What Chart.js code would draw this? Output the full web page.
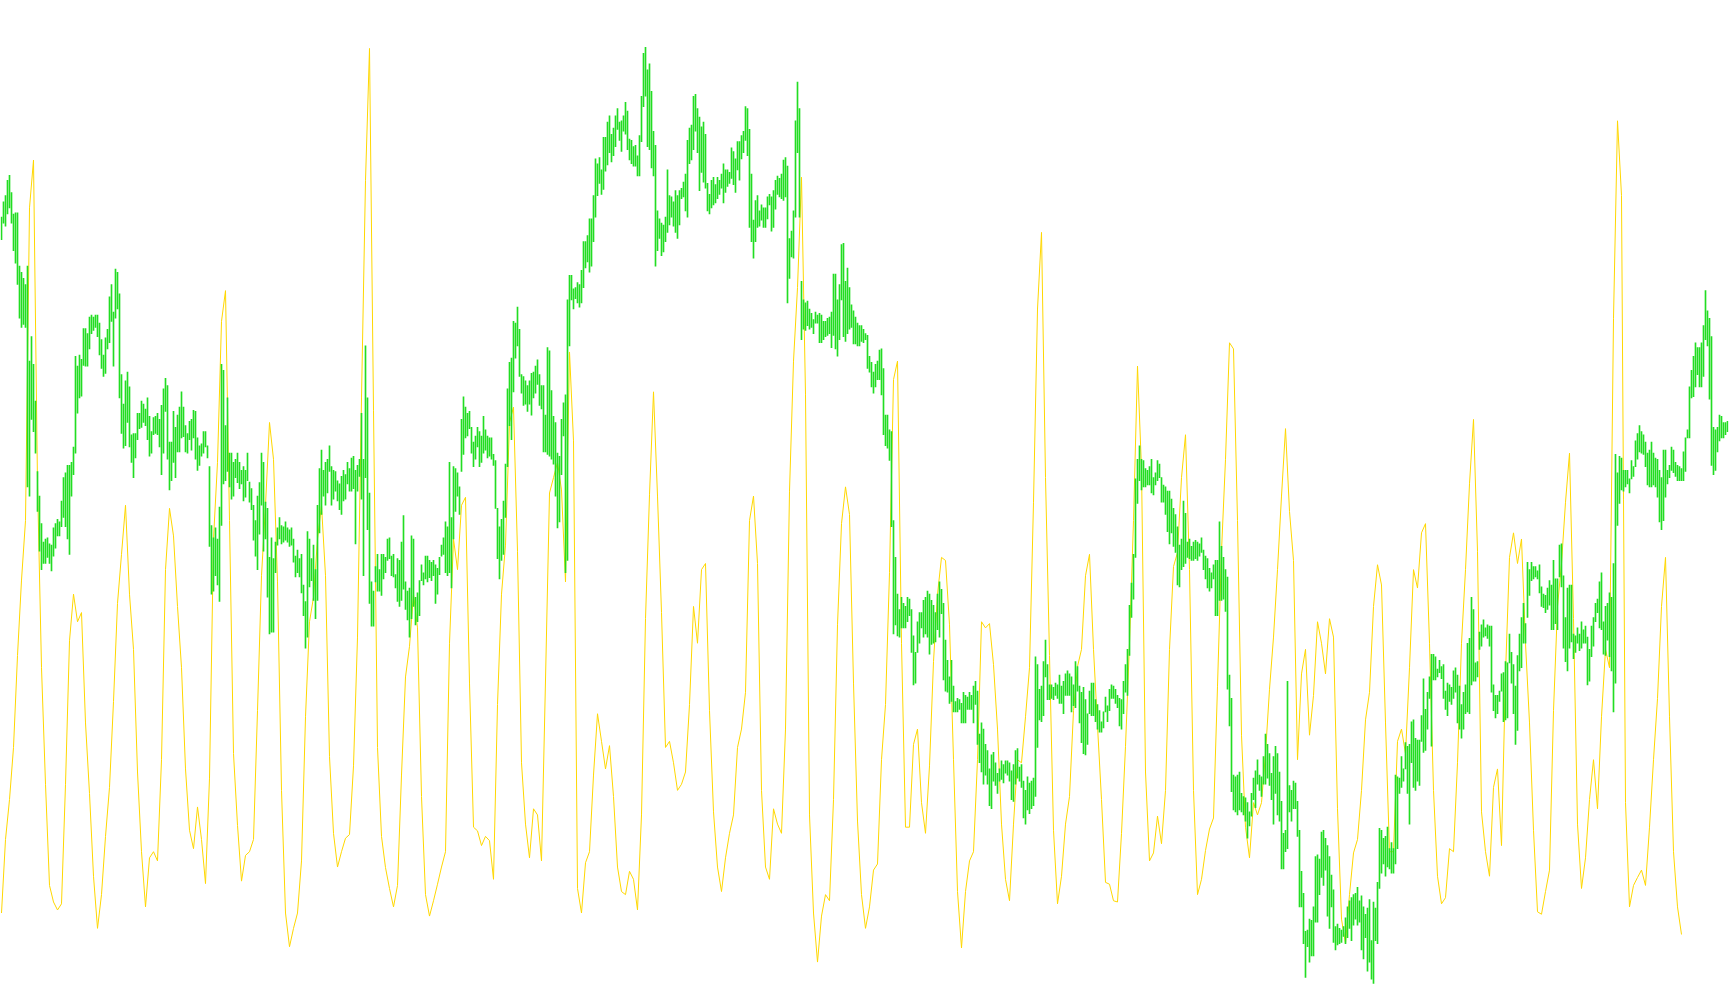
<!DOCTYPE html>
<html>
<head>
<meta charset="utf-8">
<title>Price bars and oscillator</title>
<script src="https://cdn.jsdelivr.net/npm/chart.js@4.4.1/dist/chart.umd.min.js"></script>
<style>
  html, body { margin: 0; padding: 0; background: #ffffff; }
  canvas { display: block; }
</style>
</head>
<body>
<canvas id="chart" width="1730" height="1005"></canvas>
<script>
// Values, in picture units (0 = near the top, larger = lower)

// green high-low bars, one every 2px: upper end of each bar
const barTop = [
  305,280,270,245,237,265,300,298,298,385, 395,405,415,385,540,500,545,605,720,760,
  805,835,830,828,838,840,812,805,798,802, 768,730,722,710,710,705,680,532,548,530,
  537,487,487,495,468,465,468,465,465,478, 505,530,502,488,435,415,460,390,395,430,
  562,610,572,558,582,660,658,658,625,625, 605,610,618,600,630,655,632,630,625,635,
  612,585,568,580,672,672,622,648,628,615, 590,615,645,658,638,635,620,622,665,678,
  675,655,655,678,712,808,828,812,830,778, 545,555,645,600,690,690,705,700,690,705,
  718,712,718,690,
  737,748,775,800,760,738,690,705,770,780, 860,828,862,835,812,795,808,810,802,812,
  815,812,830,858,848,862,855,905,932,818, 830,862,840,880,775,715,685,718,705,700,
  678,712,718,720,735,740,728,718,725,705, 715,698,695,718,710,700,625,700,515,600,
  755,900,915,875,855,880,855,855,860,830, 828,858,855,888,862,865,835,792,900,915,
  910,825,830,925,918,898,872,885,858,858, 865,868,865,872,878,860,840,828,802,810,
  705,795,712,715,722,745,635,598,615,625, 622,648,672,662,648,655,662,630,652,662,
  665,665,692,702,
  780,810,798,768,708,585,542,535,475,478, 452,488,562,565,572,580,572,560,558,548,
  538,562,580,580,628,518,523,588,630,640, 690,695,635,608,595,440,400,400,422,420,
  412,415,392,345,345,335,308,308,270,210, 218,208,228,175,175,150,140,170,160,140,
  128,150,148,140,118,132,178,180,190,188, 205,172,108,38,28,65,55,100,165,188,
  295,308,315,318,305,228,270,272,280,262, 270,262,258,248,235,180,160,155,108,105,
  128,142,158,150,170,250,268,245,240,252, 240,245,235,218,228,228,232,192,198,210,
  182,182,172,165,
  125,128,162,235,310,278,270,295,285,290, 290,272,268,272,262,245,238,242,235,212,
  208,222,340,328,295,148,85,128,410,440, 445,442,455,462,472,460,465,462,465,475,
  475,470,468,460,398,398,440,415,350,348, 410,388,420,448,458,468,478,482,482,488,
  495,498,532,542,558,545,540,522,520,552, 628,628,652,655,800,860,920,945,925,935,
  940,925,928,945,988,1015,965,950,950,930, 925,915,920,930,938,950,920,900,912,935,
  995,1028,1055,1028,1070,1095,1090,1092,1098,1080, 1085,1088,1080,1085,1070,1062,1078,1148,1130,1140,
  1165,1175,1205,1182,
  1178,1195,1212,1205,1192,1198,1192,1192,1195,1208, 1198,1175,1172,1202,1198,1225,1240,1218,1228,1225,
  1220,1022,1035,1075,1070,1030,995,1035,1068,1068, 1072,1065,1068,1052,1070,1062,1050,1045,1050,1055,
  1068,1030,1038,1070,1080,1072,1092,1115,1078,1065, 1065,1092,1100,1110,1128,1112,1088,1102,1075,1068,
  1070,1075,1085,1090,1092,1062,1035,1010,938,902, 855,732,700,678,700,702,715,718,712,700,
  730,722,702,708,730,742,745,752,752,765, 780,790,810,840,830,768,788,835,830,842,
  835,832,835,838,828,848,858,862,878,885, 872,865,865,802,842,860,880,892,1052,1090,
  1215,1218,1215,1210,
  1245,1250,1252,1260,1275,1245,1220,1208,1190,1215, 1218,1185,1148,1165,1180,1212,1185,1168,1180,1210,
  1258,1310,1305,1062,1232,1240,1225,1228,1258,1305, 1372,1408,1470,1468,1450,1452,1430,1348,1345,1352,
  1308,1305,1318,1330,1348,1378,1402,1462,1458,1465, 1468,1462,1448,1430,1420,1415,1410,1408,1398,1420,
  1412,1430,1442,1432,1418,1485,1422,1432,1390,1302, 1305,1318,1315,1300,1335,1325,1335,1215,1218,1220,
  1185,1205,1162,1168,1165,1128,1125,1155,1158,1158, 1118,1058,1108,1080,1055,1018,1018,1022,1042,1028,
  1038,1035,1078,1065,1068,1072,1045,1040,1052,1070, 1100,1080,1068,1000,992,925,945,1032,1030,982,
  970,962,975,970,
  972,972,1068,1085,1085,1078,1050,1048,1030,1032, 985,1015,1035,1070,1020,985,958,935,968,868,
  880,868,875,875,882,872,908,920,922,910, 898,905,865,895,895,840,838,890,958,910,
  905,905,985,988,975,985,965,978,972,990, 1010,972,958,935,928,900,885,965,940,935,
  918,925,870,692,722,695,698,718,718,718, 732,702,712,670,658,645,655,660,672,690,
  685,672,690,698,700,718,730,685,685,718, 710,680,685,705,710,712,715,688,665,652,
  582,555,532,510,518,518,510,482,425,458, 470,500,648,652,648,628,630,640,640,638
];

// green high-low bars: lower end of each bar
const barBottom = [
  342,315,320,300,290,315,360,380,415,470, 485,480,485,745,760,635,655,690,785,850,
  880,870,870,860,870,882,858,845,825,825, 810,795,810,830,855,760,725,690,625,600,
  597,547,548,548,520,495,490,485,500,530, 552,565,560,520,510,475,548,470,455,600,
  658,682,678,640,680,705,730,698,668,650, 648,640,645,668,695,690,660,658,660,680,
  725,690,622,700,750,735,705,730,688,688, 665,663,688,690,668,685,665,700,718,710,
  695,690,680,698,842,920,915,890,905,932, 808,740,735,720,745,765,760,730,738,748,
  740,768,762,735,
  770,782,832,858,880,822,775,850,830,925, 985,982,982,885,840,830,838,835,832,835,
  842,840,868,892,885,892,918,955,1008,990, 908,898,930,960,930,820,790,760,775,755,
  720,775,765,752,768,782,790,768,765,740, 752,752,748,838,752,728,765,890,730,815,
  935,972,972,900,915,915,922,895,885,865, 862,890,892,910,932,940,930,912,945,962,
  990,960,940,970,965,955,898,905,895,900, 893,898,890,935,920,888,858,855,885,890,
  885,910,830,785,760,790,720,692,665,662, 650,690,712,700,680,712,705,690,685,698,
  695,700,710,780,
  862,895,865,855,795,712,645,668,590,535, 515,565,592,612,610,622,610,628,600,592,
  578,612,618,688,688,692,695,700,708,760, 812,802,725,662,885,865,515,440,455,438,
  445,452,445,420,388,378,395,385,345,305, 270,250,268,260,230,220,200,215,205,190,
  162,180,198,165,170,195,212,218,222,222, 238,238,182,125,108,190,195,225,238,385,
  360,340,368,362,345,330,318,305,320,330, 340,318,275,272,295,305,218,212,195,165,
  200,262,232,248,258,295,300,290,285,282, 275,268,258,282,265,255,250,242,252,265,
  228,245,210,200,
  180,205,322,345,372,345,322,320,310,322, 322,308,285,328,322,292,268,272,275,278,
  272,445,405,370,372,305,200,305,505,488, 490,482,488,485,495,478,478,510,510,505,
  500,498,495,518,498,520,532,505,440,500, 508,495,488,485,512,512,515,515,508,510,
  505,552,558,582,592,582,570,570,595,660, 678,682,702,810,985,970,988,990,975,975,
  975,965,955,1015,1068,1065,1015,1000,975,990, 985,990,1018,1002,1000,998,978,990,952,1060,
  1078,1080,1098,1095,1112,1112,1112,1108,1130,1130, 1130,1108,1108,1108,1130,1100,1165,1195,1210,1230,
  1215,1230,1265,1270,
  1225,1232,1245,1225,1222,1228,1212,1215,1225,1255, 1258,1230,1220,1225,1235,1285,1295,1272,1278,1270,
  1265,1250,1170,1125,1128,1118,1055,1092,1092,1090, 1092,1085,1090,1098,1098,1115,1085,1085,1085,1112,
  1102,1105,1078,1130,1162,1180,1182,1165,1115,1118, 1118,1128,1140,1145,1145,1138,1112,1128,1110,1090,
  1090,1098,1105,1135,1140,1115,1080,1085,1020,958, 928,860,772,735,750,745,745,742,742,755,
  758,742,735,730,770,770,790,818,838,820, 842,852,905,908,880,875,870,860,862,865,
  865,862,865,858,852,880,895,910,915,910, 895,955,955,930,930,928,948,1075,1135,1242,
  1272,1275,1280,1272,
  1275,1280,1290,1318,1298,1282,1255,1268,1230,1240, 1250,1230,1230,1220,1232,1255,1295,1245,1280,1290,
  1368,1368,1340,1335,1275,1290,1270,1270,1315,1430, 1430,1490,1545,1495,1520,1510,1510,1455,1455,1410,
  1382,1395,1370,1445,1465,1430,1488,1500,1492,1490, 1488,1478,1490,1480,1465,1485,1460,1450,1460,1455,
  1500,1515,1480,1535,1520,1548,1555,1485,1490,1400, 1375,1360,1380,1365,1368,1375,1375,1360,1335,1245,
  1235,1225,1205,1245,1295,1195,1235,1240,1225,1232, 1160,1178,1175,1140,1090,1168,1060,1060,1055,1048,
  1058,1090,1108,1118,1095,1100,1090,1080,1130,1140, 1155,1140,1115,1112,1115,1068,1062,1062,1055,1010,
  1005,990,988,992,
  1005,1080,1110,1122,1115,1095,1078,1128,1125,1122, 1032,1065,1115,1165,1142,1045,1040,1000,1000,958,
  922,898,895,892,895,918,940,942,950,945, 938,978,978,968,978,892,908,1008,1030,1045,
  1008,998,1025,1015,1000,1012,1008,1000,1000,1068, 1062,1022,1005,965,950,975,978,1018,1020,995,
  1022,1045,1112,1065,808,772,750,752,745,740, 755,732,728,712,700,688,690,692,712,742,
  745,745,742,745,762,802,815,800,762,740, 730,718,722,728,735,735,735,735,720,665,
  665,600,598,582,562,582,582,565,505,515, 602,710,725,718,688,670,665,665,660,655
];

// yellow oscillator line, one reading for every second bar (stops before the last bars)
const signal = [
  1440,1320,1255,1170,1020,897,800,290,212,740, 1040,1230,1395,1422,1435,1425,1230,996,920,965,
  950,1130,1245,1380,1465,1410,1315,1235,1095,935, 855,775,920,1010,1210,1340,1430,1350,1340,1355,
  1190,880,780,825,940,1040,1205,1305,1335,1267, 1320,1392,1220,830,705,475,425,800,1180,1297,
  1388,1346,
  1340,1320,1110,890,775,640,700,900,1240,1440, 1495,1465,1440,1355,1120,965,925,830,775,890,
  1185,1310,1365,1340,1318,1312,1200,990,600,245, 30,620,1170,1315,1366,1400,1430,1395,1215,1055,
  1005,920,975,1250,1410,1445,1420,1393,1365,1340, 1000,830,880,775,762,1065,1300,1306,1330,1315,
  1322,1385,
  1100,920,840,640,615,850,1195,1295,1350,1270, 1280,1355,1060,755,730,705,750,900,525,670,
  1400,1440,1358,1340,1215,1115,1160,1205,1167,1250, 1365,1405,1410,1372,1385,1435,1280,960,758,590,
  760,950,1170,1160,1195,1240,1230,1210,1100,940, 1000,880,870,1110,1275,1365,1405,1350,1310,1280,
  1170,1140,
  1080,800,760,870,1240,1365,1385,1270,1295,1310, 1140,752,540,420,240,595,1280,1440,1520,1445,
  1410,1420,1255,970,805,745,790,1065,1290,1410, 1465,1430,1370,1360,1190,1100,885,570,540,1000,
  1300,1300,1165,1140,1260,1310,1200,1030,920,860, 865,970,1190,1405,1497,1405,1355,1340,1190,965,
  975,968,
  1035,1140,1295,1385,1420,1295,1190,1195,1120,1040, 770,455,330,730,1020,1305,1425,1380,1295,1250,
  1110,1038,1010,890,855,1010,1135,1255,1390,1393, 1420,1422,1310,1168,1000,800,548,715,1210,1355,
  1342,1282,1327,1240,1010,875,852,730,660,880, 1240,1410,1385,1338,1303,1285,1070,850,700,510,
  520,800,
  1150,1300,1350,1260,1280,1260,1180,1075,990,880, 760,650,785,865,1190,1050,1010,1150,1085,965,
  1000,1050,960,990,1270,1450,1490,1410,1342,1320, 1240,1125,1080,940,872,905,1130,1340,1340,1160,
  1140,1180,1040,880,910,820,805,1000,1240,1380, 1425,1415,1335,1340,1195,1000,880,740,635,850,
  1275,1340,
  1380,1235,1205,1330,1050,860,820,870,830,1000, 1130,1305,1438,1442,1405,1370,1110,940,870,770,
  690,960,1295,1400,1350,1255,1190,1270,1120,1010, 1040,470,148,270,1260,1430,1395,1382,1370,1395,
  1300,1190,1090,940,860,1120,1340,1430,1475
];

const labels = barTop.map((_, i) => i);

// the line has a reading at every second bar; gaps in between are joined
const signalData = labels.map((i) => (i % 2 === 0 && i / 2 < signal.length ? signal[i / 2] : null));

const ctx = document.getElementById("chart").getContext("2d");

new Chart(ctx, {
    type: "bar",
    data: {
        labels: labels,
        datasets: [
            {
                type: "bar",
                data: barTop.map((t, i) => [t, barBottom[i]]),
                backgroundColor: "#22dd22",
                borderWidth: 0,
                borderSkipped: false,
                barThickness: 1,
                grouped: false,
            },
            {
                type: "line",
                data: signalData,
                borderColor: "#ffd700",
                borderWidth: 1,
                pointRadius: 0,
                tension: 0,
                spanGaps: true,
                fill: false,
            },
        ],
    },
    options: {
        responsive: false,
        animation: false,
        devicePixelRatio: 1,
        layout: { padding: { left: 0.5, right: 1.5, top: 0, bottom: 0 } },
        scales: {
            x: { display: false, offset: true, grid: { display: false } },
            y: { display: false, reverse: true, min: -49, max: 1590, grid: { display: false } },
        },
        plugins: {
            legend: { display: false },
            tooltip: { enabled: false },
        },
    },
});
</script>
</body>
</html>
